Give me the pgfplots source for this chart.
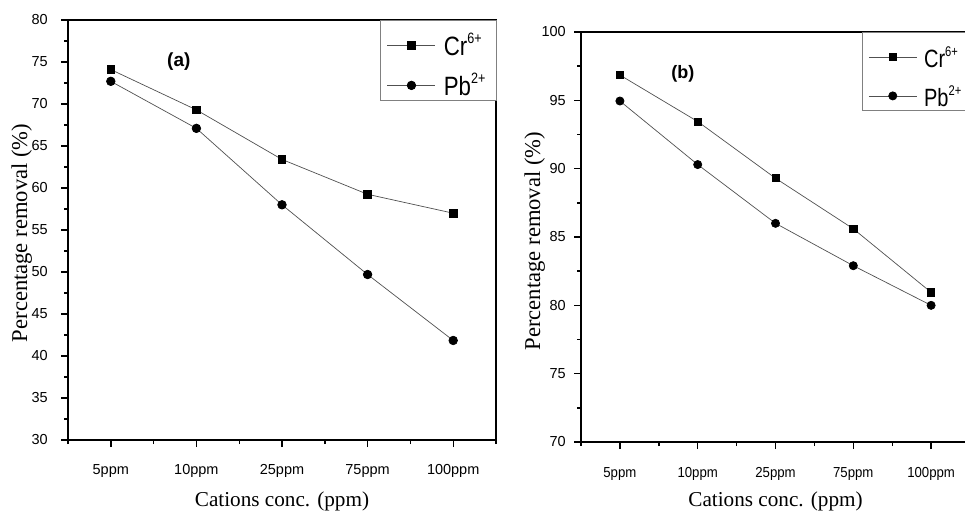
\documentclass[border=0pt]{standalone}
\usepackage{fontspec}
\setmainfont{Liberation Serif}
\newfontfamily\arial{Liberation Sans}
\newfontfamily\arialn[FakeStretch=0.84]{Liberation Sans}
\newfontfamily\arialm[FakeStretch=0.8]{Liberation Sans}
\newfontfamily\arialb[FakeStretch=0.91]{Liberation Sans}
\usepackage{pgfplots}
\pgfplotsset{compat=1.18}
\definecolor{linegray}{HTML}{505050}
\newcommand{\supa}[1]{\raisebox{12pt}{\fontsize{15}{15}\selectfont #1}}
\newcommand{\supb}[1]{\raisebox{11pt}{\fontsize{14}{14}\selectfont #1}}
\pgfplotsset{
  panel/.style={
    scale only axis,
    xmin=-0.5, xmax=4.5,
    xtick={0,1,2,3,4},
    xticklabels={5ppm,10ppm,25ppm,75ppm,100ppm},
    minor xtick={-0.5,0.5,1.5,2.5,3.5,4.5},
    minor y tick num=1,
    tick align=outside,
    xtick pos=bottom, ytick pos=left,
    axis line style={line width=1.6pt},
    major tick style={line width=1.4pt, black},
    minor tick style={line width=1.4pt, black},
    major tick length=7pt, minor tick length=4pt,
    /pgf/number format/assume math mode=true,
    xlabel={Cations conc. (ppm)},
    ylabel={Percentage removal (\%)},
    xlabel style={font=\fontsize{21.2}{24}\selectfont},
    ylabel style={font=\fontsize{22.6}{25}\selectfont},
    every axis plot/.append style={linegray, line width=0.7pt, mark options={black, fill=black, solid}},
    legend cell align=left,
    legend image code/.code={\draw[mark repeat=2,mark phase=2,#1] plot coordinates {(0pt,-5pt) (24pt,-5pt) (48pt,-5pt)};},
  }
}
\begin{document}
\begin{tikzpicture}
\useasboundingbox (0,0) rectangle (965pt,512pt);
\clip (0,0) rectangle (965pt,512pt);
% (a)
\begin{axis}[panel,
  at={(68pt,72pt)}, anchor=south west, width=428pt, height=420pt,
  ymin=30, ymax=80, ytick={30,35,...,80},
  yticklabel style={font=\arial\fontsize{14.5}{16}\selectfont, anchor=east, inner sep=0pt, xshift=-13pt},
  xticklabel style={font=\arial\fontsize{14.5}{16}\selectfont, anchor=base, inner sep=0pt, yshift=-27pt},
  xlabel style={at={(axis description cs:0.5,-0.159)}, anchor=base},
  ylabel style={at={(axis description cs:-0.0958,0.493)}, anchor=base},
  legend style={at={(axis description cs:1,1)}, anchor=north east, xshift=0.8pt, draw=gray, line width=0.8pt, fill=white,
    inner xsep=7pt, inner ysep=0pt, row sep=0pt,
    /tikz/every odd column/.style={column sep=4pt},
    font=\arialn\fontsize{26.5}{30}\selectfont,
    nodes={inner xsep=4pt, inner ysep=0pt, text height=35pt, text depth=5pt}},
]
\addplot[mark=square*, mark size=3.8pt] coordinates {(0,74.1) (1,69.3) (2,63.4) (3,59.25) (4,57.0)};
\addlegendentry{Cr\supa{6+}}
\addplot[mark=*, mark size=4.3pt] coordinates {(0,72.7) (1,67.1) (2,58.0) (3,49.7) (4,41.85)};
\addlegendentry{Pb\supa{2+}}
\node[font=\arial\bfseries\fontsize{19}{20}\selectfont] at (rel axis cs:0.259,0.9) {(a)};
\end{axis}
% (b)
\begin{axis}[panel,
  at={(581pt,70pt)}, anchor=south west, width=389pt, height=410pt,
  ymin=70, ymax=100, ytick={70,75,...,100},
  yticklabel style={font=\arial\fontsize{14.5}{16}\selectfont, anchor=east, inner sep=0pt, xshift=-8pt},
  xticklabel style={font=\arialb\fontsize{14.5}{16}\selectfont, anchor=base, inner sep=0pt, yshift=-28pt},
  xlabel style={at={(axis description cs:0.5,-0.1585)}, anchor=base},
  ylabel style={at={(axis description cs:-0.1054,0.49)}, anchor=base},
  legend style={at={(axis description cs:0.7224,1)}, anchor=north west, draw=gray, line width=0.8pt, fill=white,
    inner xsep=6pt, inner ysep=0pt, row sep=0pt,
    /tikz/every odd column/.style={column sep=3pt},
    font=\arialm\fontsize{25}{28}\selectfont,
    nodes={inner xsep=4pt, inner ysep=0pt, text height=35pt, text depth=4pt}},
]
\addplot[mark=square*, mark size=3.6pt] coordinates {(0,96.85) (1,93.45) (2,89.3) (3,85.6) (4,80.95)};
\addlegendentry{Cr\supb{6+}}
\addplot[mark=*, mark size=4.1pt] coordinates {(0,94.95) (1,90.3) (2,86.0) (3,82.9) (4,80.0)};
\addlegendentry{Pb\supb{2+}}
\node[font=\arial\bfseries\fontsize{18}{20}\selectfont] at (rel axis cs:0.262,0.8976) {(b)};
\end{axis}
\end{tikzpicture}
\end{document}
